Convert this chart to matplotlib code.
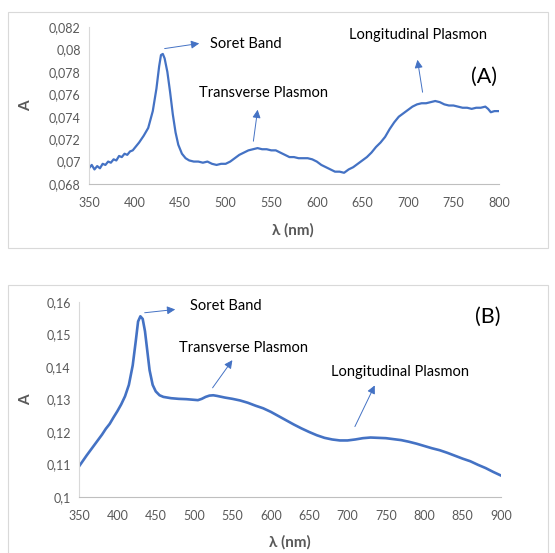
import matplotlib.pyplot as plt
import matplotlib.patches as patches
from matplotlib.ticker import FuncFormatter, MultipleLocator

plt.rcParams['font.family'] = ['Lato', 'DejaVu Sans']

# spectrum (A)
wl_a = [350, 353, 356, 359, 362, 365, 368, 371, 374, 377, 380, 383, 386, 389, 392, 395, 398, 401,
        405, 410, 415, 420, 424, 427, 429, 431, 433, 436, 439, 442, 445, 448, 452, 456, 460, 465,
        470, 475, 480, 485, 490, 495, 500, 505, 510, 515, 520, 525, 530, 535, 540, 545, 550, 555,
        560, 565, 570, 575, 580, 585, 590, 595, 600, 605, 610, 615, 620, 625, 630, 635, 640, 645,
        650, 655, 660, 665, 670, 675, 680, 685, 690, 695, 700, 705, 710, 715, 720, 725, 730, 735,
        740, 745, 750, 755, 760, 765, 770, 775, 780, 785, 788, 791, 795, 800]
abs_a = [0.0694, 0.0697, 0.0693, 0.0696, 0.0694, 0.0698, 0.0697, 0.0700, 0.0699, 0.0702, 0.0701,
         0.0705, 0.0704, 0.0707, 0.0706, 0.0709, 0.0710, 0.0713, 0.0717, 0.0723, 0.0730, 0.0745,
         0.0765, 0.0785, 0.0795, 0.0796, 0.0792, 0.0780, 0.0762, 0.0742, 0.0726, 0.0715, 0.0707,
         0.0703, 0.0701, 0.0700, 0.0700, 0.0699, 0.0700, 0.0698, 0.0697, 0.0698, 0.0698, 0.0700,
         0.0703, 0.0706, 0.0708, 0.0710, 0.0711, 0.0712, 0.0711, 0.0711, 0.0710, 0.0710, 0.0708,
         0.0706, 0.0704, 0.0704, 0.0703, 0.0703, 0.0703, 0.0702, 0.0700, 0.0697, 0.0695, 0.0693,
         0.0691, 0.0691, 0.0690, 0.0693, 0.0695, 0.0698, 0.0701, 0.0704, 0.0708, 0.0713, 0.0717,
         0.0722, 0.0729, 0.0735, 0.0740, 0.0743, 0.0746, 0.0749, 0.0751, 0.0752, 0.0752, 0.0753,
         0.0754, 0.0753, 0.0751, 0.0750, 0.0750, 0.0749, 0.0748, 0.0748, 0.0747, 0.0748, 0.0748,
         0.0749, 0.0747, 0.0744, 0.0745, 0.0745]

# spectrum (B)
wl_b = [350, 360, 370, 380, 385, 390, 395, 400, 405, 410, 415, 420, 424, 427, 430, 433, 436, 439,
        442, 446, 450, 455, 460, 470, 480, 490, 500, 505, 510, 515, 520, 525, 530, 540, 550, 560,
        570, 580, 590, 600, 610, 620, 630, 640, 650, 660, 670, 680, 690, 700, 710, 720, 730, 740,
        750, 760, 770, 780, 790, 800, 810, 820, 830, 840, 850, 860, 870, 880, 890, 900]
abs_b = [0.1094, 0.1128, 0.1160, 0.1192, 0.1210, 0.1225, 0.1245, 0.1264, 0.1285, 0.1310, 0.1345,
         0.1405, 0.1480, 0.1540, 0.1556, 0.1548, 0.1510, 0.1450, 0.1390, 0.1345, 0.1325, 0.1313,
         0.1308, 0.1304, 0.1302, 0.1301, 0.1299, 0.1298, 0.1302, 0.1308, 0.1312, 0.1313, 0.1311,
         0.1306, 0.1302, 0.1297, 0.1290, 0.1281, 0.1273, 0.1262, 0.1249, 0.1236, 0.1223, 0.1211,
         0.1200, 0.1190, 0.1182, 0.1177, 0.1174, 0.1174, 0.1177, 0.1181, 0.1183, 0.1182, 0.1181,
         0.1178, 0.1175, 0.1170, 0.1164, 0.1157, 0.1150, 0.1144, 0.1136, 0.1127, 0.1118, 0.1110,
         0.1099, 0.1089, 0.1077, 0.1066]

blue = '#4472C4'
grey = '#595959'

fig = plt.figure(figsize=(5.55, 5.53), dpi=100)

# panel borders
fig.patches.append(patches.Rectangle((8 / 555, 1 - 248 / 553), 540 / 555, 236 / 553,
                                     transform=fig.transFigure, fill=False, ec='#d9d9d9', lw=0.8))
fig.patches.append(patches.Rectangle((8 / 555, -0.01), 540 / 555, (553 - 285) / 553 + 0.01,
                                     transform=fig.transFigure, fill=False, ec='#d9d9d9', lw=0.8))

ax1 = fig.add_axes([89 / 555, 1 - 184 / 553, 410 / 555, 157 / 553])
ax2 = fig.add_axes([79 / 555, 1 - 497 / 553, 422 / 555, 195 / 553])

ax1.plot(wl_a, abs_a, color=blue, lw=1.6)
ax2.plot(wl_b, abs_b, color=blue, lw=1.9)

ax1.set_xlim(350, 800)
ax1.set_ylim(0.068, 0.082)
ax1.xaxis.set_major_locator(MultipleLocator(50))
ax1.yaxis.set_major_locator(MultipleLocator(0.002))
ax2.set_xlim(350, 900)
ax2.set_ylim(0.1, 0.16)
ax2.xaxis.set_major_locator(MultipleLocator(50))
ax2.yaxis.set_major_locator(MultipleLocator(0.01))

comma = FuncFormatter(lambda v, p: ('%g' % round(v, 4)).replace('.', ','))
for ax in (ax1, ax2):
    ax.yaxis.set_major_formatter(comma)
    for s in ('top', 'right'):
        ax.spines[s].set_visible(False)
    ax.spines['left'].set_color('#d9d9d9')
    ax.spines['bottom'].set_color('#bfbfbf')
    ax.tick_params(length=0, labelsize=9, labelcolor=grey, pad=6)
    ax.tick_params(axis='x', pad=9)
    ax.set_xlabel('λ (nm)', fontsize=11, fontweight='bold', color=grey)
    ax.set_ylabel('A', fontsize=11, fontweight='bold', color=grey)

ax1.xaxis.set_label_coords(0.4976, -0.248)
ax1.yaxis.set_label_coords(-56 / 410, 0.5)
ax2.xaxis.set_label_coords(0.5, -0.195)
ax2.yaxis.set_label_coords(-46 / 422, 0.5)

arr = dict(arrowstyle='-|>', color=blue, lw=0.7, mutation_scale=12)
fs = 10.5

# annotations (A)
ax1.annotate('', xy=(474, 0.08057), xytext=(430, 0.08004), arrowprops=arr)
ax1.text(483, 0.08050, 'Soret Band', fontsize=fs, va='center', ha='left')
ax1.annotate('', xy=(535.5, 0.07487), xytext=(530, 0.07157), arrowprops=arr)
ax1.text(541, 0.07611, 'Transverse Plasmon', fontsize=fs, va='center', ha='center')
ax1.annotate('', xy=(710, 0.07932), xytext=(716.6, 0.07594), arrowprops=arr)
ax1.text(711, 0.08129, 'Longitudinal Plasmon', fontsize=fs, va='center', ha='center')
ax1.text(783.5, 0.07754, '(A)', fontsize=15.5, va='center', ha='center')

# annotations (B)
ax2.annotate('', xy=(479, 0.1578), xytext=(432, 0.1566), arrowprops=arr)
ax2.text(495, 0.1588, 'Soret Band', fontsize=fs, va='center', ha='left')
ax2.annotate('', xy=(552, 0.1428), xytext=(522, 0.1329), arrowprops=arr)
ax2.text(565, 0.1458, 'Transverse Plasmon', fontsize=fs, va='center', ha='center')
ax2.annotate('', xy=(737, 0.1351), xytext=(708, 0.1209), arrowprops=arr)
ax2.text(768, 0.1385, 'Longitudinal Plasmon', fontsize=fs, va='center', ha='center')
ax2.text(883, 0.1554, '(B)', fontsize=15.5, va='center', ha='center')

fig.savefig('out.png', dpi=100)
